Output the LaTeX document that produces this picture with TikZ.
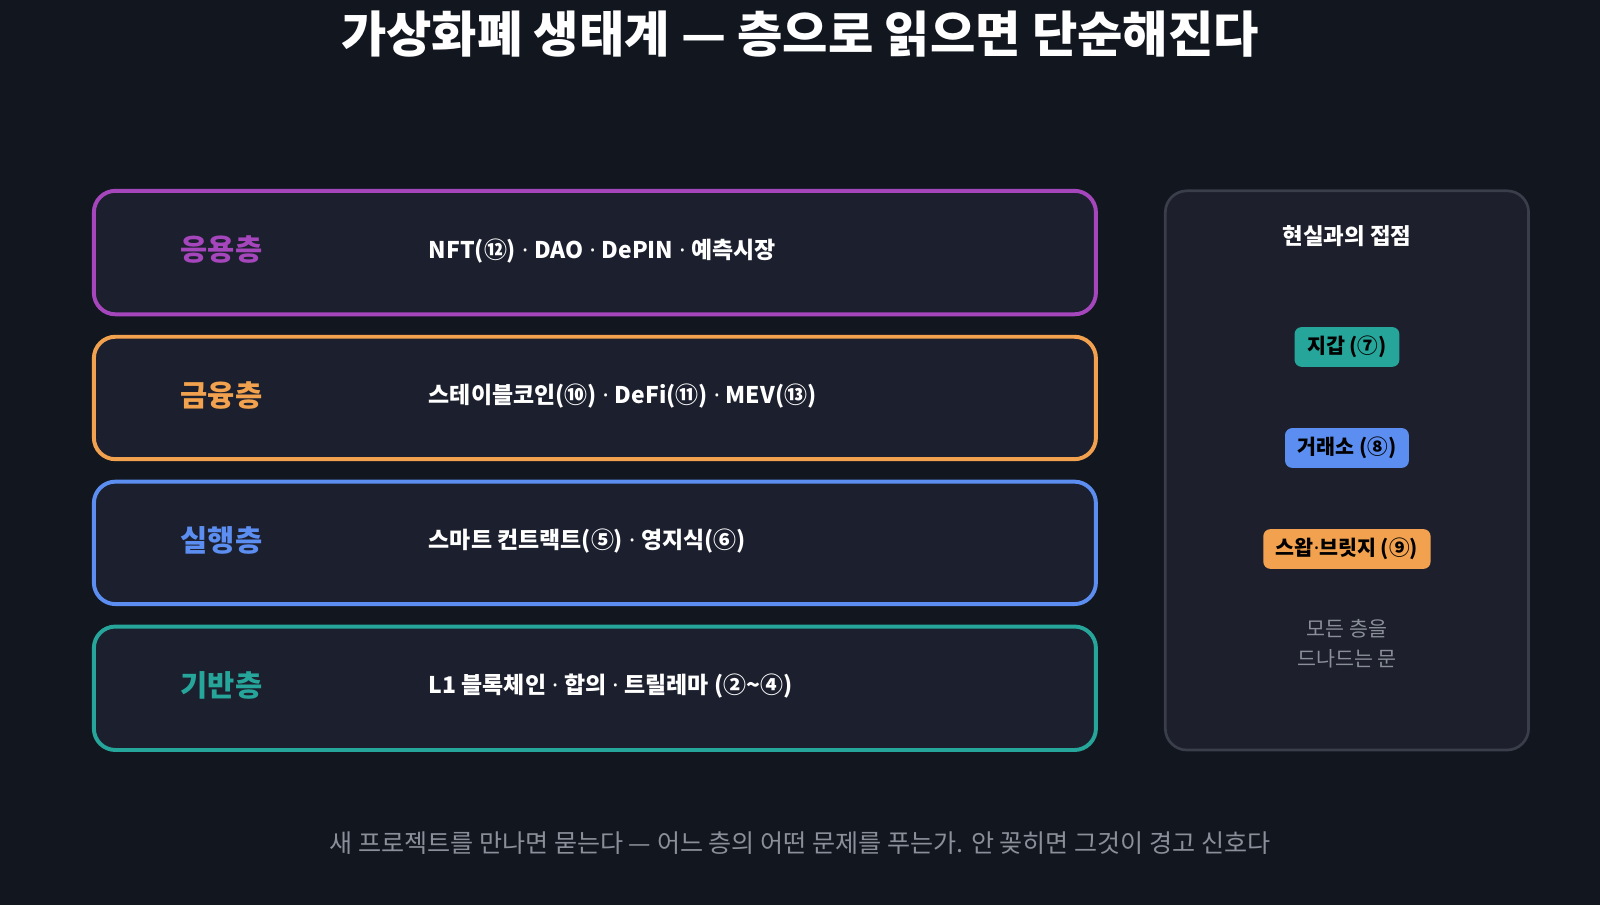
\documentclass[tikz,border=0pt]{standalone}
\usepackage{fontspec}
\setmainfont{Noto Sans CJK KR}
\newfontfamily\ls{Noto Sans}
\newcommand{\md}{{\ls\ ·\ }}
\definecolor{bg}{HTML}{12161F}
\definecolor{boxf}{HTML}{1C1F2D}
\definecolor{cpur}{HTML}{A546BC}
\definecolor{corg}{HTML}{F2A24E}
\definecolor{cblu}{HTML}{5B8EF0}
\definecolor{ctea}{HTML}{26A69A}
\definecolor{pan}{HTML}{1D202C}
\definecolor{panb}{HTML}{3A3D4A}
\definecolor{gry}{HTML}{8A8F99}
\begin{document}
\begin{tikzpicture}[x=0.02cm,y=-0.02cm,
 layer/.style={draw=#1,line width=2.2pt,fill=boxf,rounded corners=12pt},
 lbl/.style={text=#1,font=\fontsize{16.5}{18}\selectfont\bfseries,anchor=center},
 item/.style={text=white,font=\fontsize{12.8}{15}\selectfont\bfseries,anchor=west},
 tag/.style={fill=#1,rounded corners=4pt,text=black,font=\fontsize{11.5}{14}\selectfont\bfseries,inner xsep=7pt,inner ysep=5pt}]
\useasboundingbox (0,0) rectangle (1568,887);
\fill[bg] (0,0) rectangle (1568,887);
\node[text=white,font=\fontsize{27.5}{32}\selectfont\bfseries] (title) at (784,33) {가상화폐 생태계 — 층으로 읽으면 단순해진다};
\draw[layer=cpur] (92,187) rectangle (1074,308);
\draw[layer=corg] (92,330) rectangle (1074,450);
\draw[layer=cblu] (92,472) rectangle (1074,592);
\draw[layer=ctea] (92,614) rectangle (1074,735);
\node[lbl=cpur] (l1) at (217,245) {응용층};
\node[lbl=corg] (l2) at (217,388) {금융층};
\node[lbl=cblu] (l3) at (217,530) {실행층};
\node[lbl=ctea] (l4) at (217,672) {기반층};
\node[item] (i1) at (414,246) {NFT(⑫)\md DAO\md DePIN\md 예측시장};
\node[item] (i2) at (414,388) {스테이블코인(⑩)\md DeFi(⑪)\md MEV(⑬)};
\node[item] (i3) at (414,530) {스마트 컨트랙트(⑤)\md 영지식(⑥)};
\node[item] (i4) at (414,672) {L1 블록체인\md 합의\md 트릴레마 (②\textasciitilde④)};
\draw[draw=panb,line width=1.5pt,fill=pan,rounded corners=12pt] (1142,187) rectangle (1498,735);
\node[text=white,font=\fontsize{12.5}{15}\selectfont\bfseries] (ph) at (1320,231) {현실과의 접점};
\node[tag=ctea] (t1) at (1320,340) {지갑 (⑦)};
\node[tag=cblu] (t2) at (1320,439) {거래소 (⑧)};
\node[tag=corg] (t3) at (1320,538) {스왑{\ls·}브릿지 (⑨)};
\node[text=gry,align=center,font=\fontsize{11.5}{17}\selectfont] (door) at (1320,631) {모든 층을\\드나드는 문};
\node[text=gry,font=\fontsize{14}{16}\selectfont] (foot) at (784,826) {새 프로젝트를 만나면 묻는다 — 어느 층의 어떤 문제를 푸는가. 안 꽂히면 그것이 경고 신호다};
\end{tikzpicture}
\end{document}
